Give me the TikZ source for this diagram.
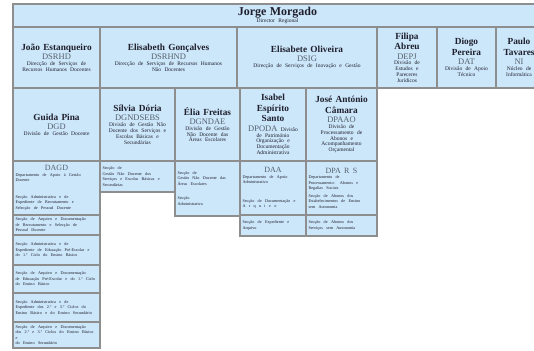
\documentclass[tikz,border=0pt]{standalone}
\usepackage{fontspec}
\setmainfont{Liberation Serif}
\definecolor{cblue}{HTML}{CCE7FA}
\definecolor{cgrey}{HTML}{8E8E8E}
\definecolor{cink}{HTML}{1E1E2C}
\definecolor{cabbr}{HTML}{55606E}
% font switches used inside the cells
\newcommand{\chiefname}{\fontsize{12}{12.5}\selectfont\bfseries\color{cink}}
\newcommand{\pname}{\fontsize{9.3}{10.5}\selectfont\bfseries\color{cink}}
\newcommand{\unitabbr}{\fontsize{8.5}{9.5}\selectfont\mdseries\color{cabbr}}
\newcommand{\unitdesc}{\fontsize{5.5}{5.8}\selectfont\mdseries\color{cink}}
\newcommand{\subhead}{\fontsize{8}{8.5}\selectfont\mdseries\color{cabbr}}
\newcommand{\subtext}{\fontsize{4.2}{5.5}\selectfont\mdseries\color{cink}}
\tikzset{
  every picture/.style={line width=1.6pt},
  cell/.style 2 args={draw=cgrey, fill=cblue, anchor=north west, outer sep=0pt,
    inner xsep=2pt, inner ysep=1pt, align=center,
    minimum width=#1pt, minimum height=#2pt, text width=#1pt-4pt},
  subcell/.style 2 args={cell={#1}{#2}, align=left, inner xsep=2.5pt, text width=#1pt-5pt},
}
\begin{document}
\begin{tikzpicture}[x=1pt, y=-1pt]
  \useasboundingbox (0,0) rectangle (534,350);
  \clip (0,0) rectangle (534,350);
  % director
  \node[cell={529}{23}] (jmorgado) at (13,4) {\chiefname Jorge Morgado\par\unitdesc Director Regional\par};
  % services
  \node[cell={87}{61}] (dsrhd) at (13,27) {\pname João Estanqueiro\par\unitabbr DSRHD\par
    \unitdesc Direcção de Serviços de\\Recursos Humanos Docentes\par};
  \node[cell={137}{61}] (dsrhnd) at (100,27) {\pname Elisabeth Gonçalves\par\unitabbr DSRHND\par
    \unitdesc Direcção de Serviços de Recursos Humanos\\Não Docentes\par};
  \node[cell={140}{61}] (dsig) at (237,27) {\pname Elisabete Oliveira\par\unitabbr DSIG\par
    \unitdesc Direcção de Serviços de Inovação e Gestão\par};
  \node[cell={60}{61}] (depj) at (377,27) {\pname Filipa\\Abreu\par\unitabbr DEPJ\par
    \unitdesc Divisão de\\Estudos e\\Pareceres\\Jurídicos\par};
  \node[cell={59}{61}] (dat) at (437,27) {\pname Diogo\\Pereira\par\unitabbr DAT\par
    \unitdesc Divisão de Apoio\\Técnico\par};
  \node[cell={46}{61}] (ni) at (496,27) {\pname Paulo\\Tavares\par\unitabbr NI\par
    \unitdesc Núcleo de\\Informática\par};
  % divisions
  \node[cell={87}{73}] (dgd) at (13,88) {\pname Guida Pina\par\unitabbr DGD\par
    \unitdesc Divisão de Gestão Docente\par};
  \node[cell={75}{73}] (dgndsebs) at (100,88) {\pname Sílvia Dória\par\unitabbr DGNDSEBS\par
    \unitdesc Divisão de Gestão Não\\Docente dos Serviços e\\Escolas Básicas e\\Secundárias\par};
  \node[cell={65}{73}] (dgndae) at (175,88) {\pname Élia Freitas\par\unitabbr DGNDAE\par
    \unitdesc Divisão de Gestão\\Não Docente das\\Áreas Escolares\par};
  \node[cell={66}{73}] (dpoda) at (240,88) {\pname Isabel\\Espírito\\Santo\par
    \unitabbr DPODA {\unitdesc Divisão}\par
    \unitdesc de Património\\Organização e\\Documentação\\Administrativa\par};
  \node[cell={71}{73}] (dpaao) at (306,88) {\pname José António\\Câmara\par\unitabbr DPAAO\par
    \unitdesc Divisão de\\Processamento de\\Abonos e\\Acompanhamento\\Orçamental\par};
  % sections
  \node[subcell={87}{54}] (dagd) at (13,161) {{\centering\subhead DAGD\par}
    \subtext Departamento de Apoio à Gestão\\Docente\par\vspace{11pt}
    Secção Administrativa e de\\Expediente de Recrutamento e\\Selecção de Pessoal Docente\par};
  \foreach \yt/\h/\txt [count=\i] in {
      215/20/{Secção de Arquivo e Documentação\\de Recrutamento e Selecção de\\Pessoal Docente},
      235/30/{Secção Administrativa e de\\Expediente de Educação Pré-Escolar e\\do 1.º Ciclo do Ensino Básico},
      265/28/{Secção de Arquivo e Documentação\\de Educação Pré-Escolar e do 1.º Ciclo\\do Ensino Básico},
      293/29/{Secção Administrativa e de\\Expediente dos 2.º e 3.º Ciclos do\\Ensino Básico e do Ensino Secundário},
      322/26/{Secção de Arquivo e Documentação\\dos 2.º e 3.º Ciclos do Ensino Básico e\\do Ensino Secundário}}
    \node[subcell={87}{\h}] (dagd\i) at (13,\yt) {\subtext\txt\endgraf};
  \node[subcell={75}{31}] (sgnd) at (100,161) {\subtext Secção de\\Gestão Não Docente dos\\Serviços e Escolas Básicas e\\Secundárias\par};
  \node[subcell={65}{55}] (sgnda) at (175,161) {\subtext Secção de\\Gestão Não Docente das\\Áreas Escolares\par\vspace{9pt}
    Secção\\Administrativa\par};
  \node[subcell={66}{54}] (daa) at (240,161) {{\centering\subhead DAA\par}
    \subtext Departamento de Apoio\\Administrativo\par\vspace{13pt}
    Secção de Documentação e\\A r q u i v o\par};
  \node[subcell={66}{21}] (daa2) at (240,215) {\subtext Secção de Expediente e\\Arquivo\par};
  \node[subcell={71}{54}] (dpars) at (306,161) {{\centering\subhead DPA R S\par}
    \subtext Departamento de\\Processamento: Abonos e\\Regalias Sociais\par\vspace{2pt}
    Secção de Abonos dos\\Estabelecimentos de Ensino\\sem Autonomia\par};
  \node[subcell={71}{21}] (dpars2) at (306,215) {\subtext Secção de Abonos dos\\Serviços sem Autonomia\par};
\end{tikzpicture}
\end{document}
